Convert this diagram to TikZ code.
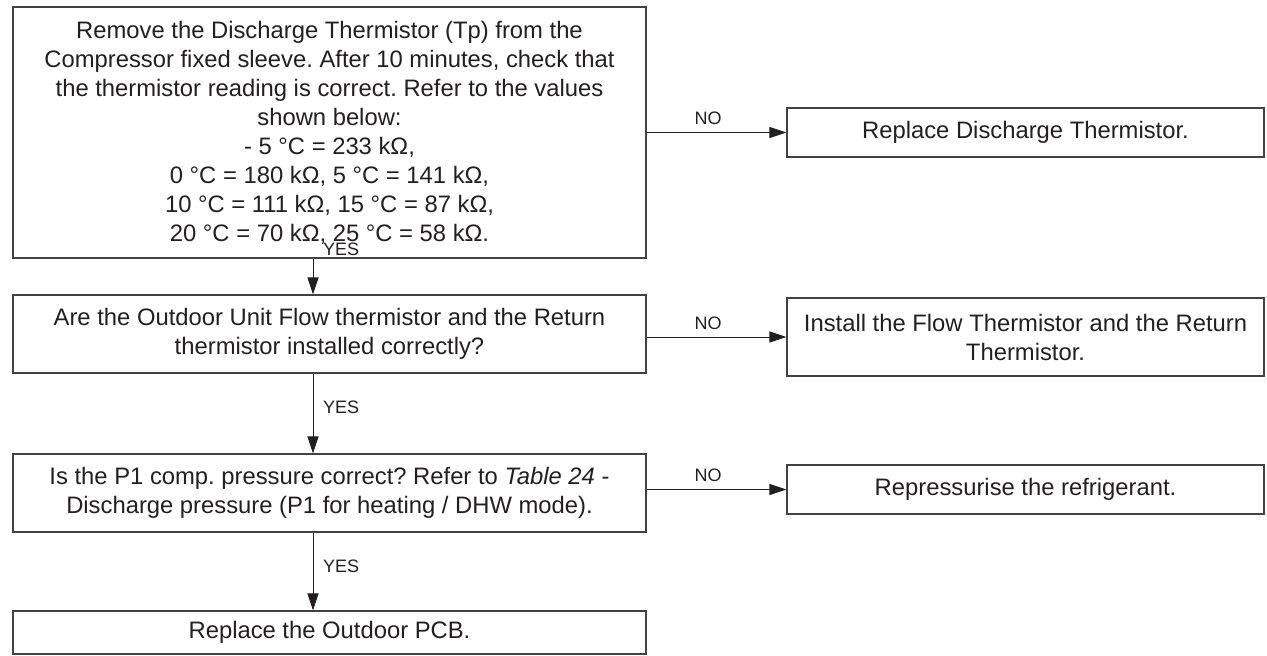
\documentclass[tikz,border=0pt]{standalone}
\usepackage{fontspec}
\setmainfont{Liberation Sans}
\usetikzlibrary{arrows.meta}
\definecolor{ink}{HTML}{231F20}
\frenchspacing
\tikzset{
  box/.style={draw=ink!85, line width=1.1pt, align=center, text=ink, inner sep=0pt,
    font=\fontsize{23.8}{29}\selectfont},
  arr/.style={draw=ink, line width=1pt, -{Triangle[length=17pt,width=11pt]}},
  lbl/.style={text=ink, inner sep=0pt, font=\fontsize{18}{20}\selectfont}
}
\begin{document}
\begin{tikzpicture}[x=1pt,y=-1pt]
\useasboundingbox (0,0) rectangle (1267,656);
\node[box, minimum width=633pt, minimum height=251pt] (b1) at (329.5,132.5)
 {Remove the Discharge Thermistor (Tp) from the\\
  Compressor fixed sleeve. After 10 minutes, check that\\
  the thermistor reading is correct. Refer to the values\\
  shown below:\\
  - 5 °C = 233 kΩ,\\
  0 °C = 180 kΩ, 5 °C = 141 kΩ,\\
  10 °C = 111 kΩ, 15 °C = 87 kΩ,\\
  20 °C = 70 kΩ, 25 °C = 58 kΩ.};
\node[box, minimum width=633pt, minimum height=78pt] (b2) at (329.5,334)
 {Are the Outdoor Unit Flow thermistor and the Return\\
  thermistor installed correctly?};
\node[box, minimum width=633pt, minimum height=78pt] (b3) at (329.5,493)
 {Is the P1 comp. pressure correct? Refer to \textit{Table 24} -\\
  Discharge pressure (P1 for heating / DHW mode).};
\node[box, minimum width=633pt, minimum height=43pt] (b4) at (329.5,632.5)
 {Replace the Outdoor PCB.};
\node[box, minimum width=477pt, minimum height=49pt] (r1) at (1025.5,132.5)
 {Replace Discharge Thermistor.};
\node[box, minimum width=477pt, minimum height=78pt] (r2) at (1025.5,337)
 {Install the Flow Thermistor and the Return\\ Thermistor.};
\node[box, minimum width=477pt, minimum height=49pt] (r3) at (1025.5,489.5)
 {Repressurise the refrigerant.};
\coordinate (ax) at (313,0);
\draw[arr] (ax |- b1.south) -- (ax |- b2.north);
\draw[arr] (ax |- b2.south) -- (ax |- b3.north);
\draw[arr] (ax |- b3.south) -- (ax |- b4.north);
\draw[arr] (b1.east |- r1.west) -- (r1.west);
\draw[arr] (b2.east |- r2.west) -- (r2.west);
\draw[arr] (b3.east |- r3.west) -- (r3.west);
\node[lbl, anchor=west] (y1) at (323,249) {YES};
\node[lbl, anchor=west] (y2) at (323,407) {YES};
\node[lbl, anchor=west] (y3) at (323,566) {YES};
\node[lbl] (n1) at (708,118) {NO};
\node[lbl] (n2) at (708,323) {NO};
\node[lbl] (n3) at (708,475) {NO};
\end{tikzpicture}
\end{document}
